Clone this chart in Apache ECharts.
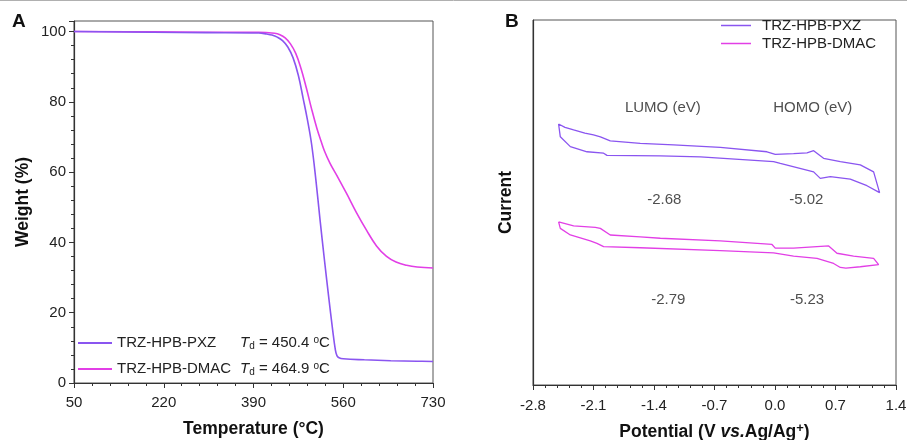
<!DOCTYPE html>
<html>
<head>
<meta charset="utf-8">
<script src="https://cdn.jsdelivr.net/npm/echarts@6/dist/echarts.min.js"></script>
<style>
  html, body { margin: 0; padding: 0; background: #fff; }
  #main { width: 907px; height: 440px; }
</style>
</head>
<body>
<div id="main"></div>
<script>
// ---- panel A: TGA ----
const tgaTempPXZ = [50, 200, 300, 400, 415, 425, 435, 445, 455, 465, 475, 484, 492, 500, 508, 516, 524, 532, 540, 545, 548, 552, 560, 600, 650, 700, 730]
const tgaWeightPXZ = [100, 99.8, 99.7, 99.6, 99.3, 99.0, 98.4, 97.4, 95.6, 92.5, 87.5, 81, 75, 68, 58, 46.5, 35.5, 25, 15, 9.5, 7.8, 7.2, 6.9, 6.6, 6.35, 6.2, 6.1]
const tgaTempDMAC = [50, 200, 300, 400, 430, 440, 450, 460, 470, 480, 490, 500, 510, 518, 525, 535, 548, 566, 585, 604, 623, 642, 660, 680, 700, 730]
const tgaWeightDMAC = [100, 99.9, 99.8, 99.8, 99.5, 99.1, 98.2, 96.5, 93.8, 89.5, 84, 78, 72.5, 68.8, 65.8, 62.5, 59, 54, 48.5, 43.5, 39, 36, 34.4, 33.5, 33.0, 32.7]

const seriesNames = ['TRZ-HPB-PXZ', 'TRZ-HPB-DMAC']
const tdValues = ['450.4', '464.9']

// ---- panel B: CV loops (potential V, current a.u.) ----
const cvPotentialPXZ = [-2.504, -2.43, -2.33, -2.20, -2.10, -2.02, -1.906, -1.559, -1.173, -0.633, -0.093, 0.003, 0.215, 0.370, 0.447, 0.562, 0.756, 0.987, 1.141, 1.21,
  1.064, 0.871, 0.640, 0.524, 0.447, 0.061, -0.016, -0.863, -1.327, -1.944, -1.983, -2.175, -2.368, -2.484, -2.504]
const cvCurrentPXZ = [71.5, 70.6, 69.9, 69.0, 68.5, 68.0, 66.9, 66.2, 65.8, 65.1, 63.9, 63.2, 63.4, 63.6, 64.2, 62.1, 61.2, 60.3, 58.4, 52.7,
  54.6, 56.4, 57.1, 56.6, 58.4, 60.7, 61.2, 62.5, 62.8, 62.9, 63.5, 63.9, 65.3, 68.0, 71.5]
const cvPotentialDMAC = [-2.504, -2.33, -2.079, -2.021, -1.906, -1.559, -1.327, -0.633, -0.035, 0.003, 0.215, 0.621, 0.717, 0.909, 1.141, 1.199,
  1.180, 0.987, 0.82, 0.756, 0.678, 0.486, 0.215, -0.016, -0.633, -1.559, -1.983, -2.060, -2.137, -2.368, -2.484, -2.504]
const cvCurrentDMAC = [44.7, 43.6, 43.2, 42.9, 41.1, 40.6, 40.2, 39.5, 38.5, 37.5, 37.5, 38.1, 36.1, 35.3, 34.7, 33.0,
  32.6, 32.4, 32.0, 32.2, 33.3, 34.7, 35.3, 36.2, 36.8, 37.6, 37.9, 38.8, 39.5, 41.1, 42.9, 44.7]

const noteTexts = ['LUMO (eV)', 'HOMO (eV)', '-2.68', '-5.02', '-2.79', '-5.23']
const notePotential = [-1.298, 0.437, -1.281, 0.362, -1.235, 0.370]
const noteCurrent = [75.9, 75.9, 50.7, 50.7, 23.3, 23.3]

const colPXZ = '#8a55f0'
const colDMAC = '#e23fe6'
const font = "'Liberation Sans', Arial, sans-serif"
const ink = '#222'

const zip = (xs, ys) => xs.map((x, i) => [x, ys[i]])

const chart = echarts.init(document.getElementById('main'))

const axisCommon = {
  axisLine: { show: true, onZero: false, lineStyle: { color: '#333', width: 1.2 } },
  axisTick: { show: true, length: 5, lineStyle: { color: '#333' } },
  minorTick: { show: true, splitNumber: 5, length: 3, lineStyle: { color: '#333' } },
  splitLine: { show: false },
  axisLabel: { color: ink, fontSize: 15, fontFamily: font },
  nameTextStyle: { color: '#111', fontSize: 17.5, fontWeight: 'bold', fontFamily: font },
}

chart.setOption({
  animation: false,
  textStyle: { fontFamily: font },
  graphic: [{
    type: 'line', shape: { x1: 0, y1: 0.5, x2: 907, y2: 0.5 },
    style: { stroke: '#b0b0b0', lineWidth: 1 },
  }],
  title: [
    { text: 'A', left: 12, top: 12, padding: 0, textStyle: { fontSize: 19, fontWeight: 'bold', color: '#111', fontFamily: font } },
    { text: 'B', left: 505, top: 12, padding: 0, textStyle: { fontSize: 19, fontWeight: 'bold', color: '#111', fontFamily: font } },
  ],
  grid: [
    { left: 74, top: 21, width: 359, height: 362, show: true, borderColor: '#555', borderWidth: 1, outerBoundsMode: 'none' },
    { left: 533, top: 20, width: 363, height: 365, show: true, borderColor: '#555', borderWidth: 1, outerBoundsMode: 'none' },
  ],
  xAxis: [
    {
      ...axisCommon, gridIndex: 0, type: 'value', min: 50, max: 730, interval: 170,
      axisLabel: { ...axisCommon.axisLabel, margin: 12 },
      name: 'Temperature (°C)', nameLocation: 'middle', nameGap: 37,
    },
    {
      ...axisCommon, gridIndex: 1, type: 'value', min: -2.8, max: 1.4, interval: 0.7,
      axisLabel: { ...axisCommon.axisLabel, margin: 13, formatter: v => v.toFixed(1) },
      name: 'Potential (V {i|vs.}Ag/Ag{sup|+})', nameLocation: 'middle', nameGap: 37,
      nameTextStyle: {
        ...axisCommon.nameTextStyle,
        rich: {
          i: { fontSize: 17.5, fontWeight: 'bold', fontStyle: 'italic', fontFamily: font, color: '#111' },
          sup: { fontSize: 13, fontWeight: 'bold', fontFamily: font, color: '#111', verticalAlign: 'top', padding: [0, 0, 8, 0] },
        },
      },
    },
  ],
  yAxis: [
    {
      ...axisCommon, gridIndex: 0, type: 'value', min: 0, max: 103, interval: 20,
      axisLabel: { ...axisCommon.axisLabel, showMaxLabel: false },
      name: 'Weight (%)', nameLocation: 'middle', nameGap: 42,
    },
    {
      ...axisCommon, gridIndex: 1, type: 'value', min: 0, max: 100,
      axisTick: { show: false }, minorTick: { show: false }, axisLabel: { show: false },
      name: 'Current', nameLocation: 'middle', nameGap: 18,
    },
  ],
  legend: [
    {
      data: seriesNames, orient: 'vertical', left: 78, top: 335, itemGap: 10,
      icon: 'rect', itemWidth: 34, itemHeight: 2, padding: 0,
      formatter: name => {
        const td = tdValues[seriesNames.indexOf(name)]
        return `{n|${name}}{i|T}{sub|d}{t| = ${td} }{sup|o}{t|C}`
      },
      textStyle: {
        color: ink, fontSize: 15, fontFamily: font,
        rich: {
          n: { width: 123, fontSize: 15, color: ink, fontFamily: font },
          i: { fontSize: 15, fontStyle: 'italic', color: ink, fontFamily: font },
          sub: { fontSize: 10, color: ink, fontFamily: font, verticalAlign: 'bottom', padding: [6, 0, 0, 0] },
          t: { fontSize: 15, color: ink, fontFamily: font },
          sup: { fontSize: 10, color: ink, fontFamily: font, verticalAlign: 'top', padding: [0, 0, 6, 0] },
        },
      },
    },
    {
      data: seriesNames, orient: 'vertical', left: 721, top: 18, itemGap: 3,
      icon: 'rect', itemWidth: 30, itemHeight: 1.5, padding: 0,
      textStyle: { color: ink, fontSize: 15, fontFamily: font, padding: [0, 0, 0, 6] },
    },
  ],
  series: [
    {
      name: seriesNames[0], type: 'line', xAxisIndex: 0, yAxisIndex: 0,
      data: zip(tgaTempPXZ, tgaWeightPXZ), symbol: 'none', smooth: 0.4,
      lineStyle: { color: colPXZ, width: 1.6 }, itemStyle: { color: colPXZ }, z: 3,
    },
    {
      name: seriesNames[1], type: 'line', xAxisIndex: 0, yAxisIndex: 0,
      data: zip(tgaTempDMAC, tgaWeightDMAC), symbol: 'none', smooth: 0.4,
      lineStyle: { color: colDMAC, width: 1.6 }, itemStyle: { color: colDMAC }, z: 2,
    },
    {
      name: seriesNames[0], type: 'line', xAxisIndex: 1, yAxisIndex: 1,
      data: zip(cvPotentialPXZ, cvCurrentPXZ), symbol: 'none',
      lineStyle: { color: colPXZ, width: 1.3 }, itemStyle: { color: colPXZ },
    },
    {
      name: seriesNames[1], type: 'line', xAxisIndex: 1, yAxisIndex: 1,
      data: zip(cvPotentialDMAC, cvCurrentDMAC), symbol: 'none',
      lineStyle: { color: colDMAC, width: 1.3 }, itemStyle: { color: colDMAC },
    },
    {
      type: 'scatter', xAxisIndex: 1, yAxisIndex: 1, symbolSize: 0, silent: true,
      data: noteTexts.map((t, i) => ({ value: [notePotential[i], noteCurrent[i]], name: t })),
      label: {
        show: true, position: 'inside', formatter: p => p.name,
        color: ink, fontSize: 15, fontFamily: font,
      },
    },
  ],
})
</script>
</body>
</html>
